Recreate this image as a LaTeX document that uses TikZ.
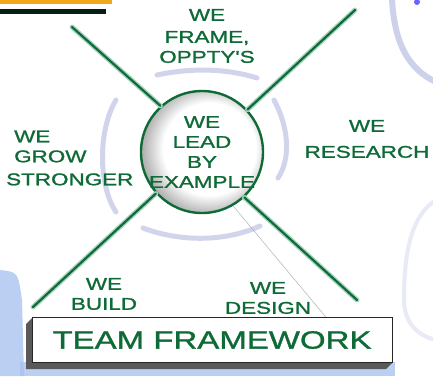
\documentclass[tikz,border=0pt]{standalone}
\usepackage{fontspec}
\newfontfamily\hand[FakeStretch=1.32,FakeBold=1.2]{Liberation Sans}
\definecolor{pen}{HTML}{0E6A36}
\definecolor{penlite}{HTML}{A9D3C2}
\definecolor{lav}{HTML}{CDD1EA}
\definecolor{skyb}{HTML}{A9C3EE}
\definecolor{orng}{HTML}{F2A81C}
\pgfdeclareradialshading{ringshade}{\pgfpoint{5bp}{2bp}}{color(0bp)=(white); color(19bp)=(white); color(26bp)=(black!28); color(31bp)=(black!40); color(50bp)=(black!40)}
\tikzset{
  lbl/.style={text=pen, align=center, inner sep=0pt, font=\hand\fontsize{17}{20}\selectfont},
  spoke/.style={draw=pen, line width=2.2pt, line cap=round},
  spokelite/.style={draw=penlite, line width=5pt, line cap=round},
  halo/.style={draw=lav, line width=5pt, line cap=round, opacity=0.9},
}
\begin{document}
\begin{tikzpicture}[x=1pt,y=-1pt]
\useasboundingbox (0,0) rectangle (433,376);
\fill[white] (0,0) rectangle (433,376);
% top-left strokes
\fill[orng] (0,0) rectangle (112,4);
\fill[black!70!pen] (0,9) rectangle (106,14);
% side blue smears
\fill[skyb, opacity=0.8] (0,270) .. controls (18,272) .. (22,300) -- (24,376) -- (0,376) -- cycle;
\fill[skyb, opacity=0.8] (20,362) rectangle (395,376);
\fill[blue!60] (417,2) circle (3);
\draw[lav, line width=6pt] (392,-2) .. controls (394,45) and (410,70) .. (436,82);
\draw[lav, line width=4pt, opacity=0.45] (436,200) .. controls (412,215) and (404,250) .. (404,300) .. controls (404,320) and (415,335) .. (436,340);
% halos around centre
\draw[halo] (157,75) .. controls (190,68) and (225,68) .. (257,78);
\draw[halo] (116,100) .. controls (98,130) and (98,185) .. (116,212);
\draw[halo] (274,100) .. controls (290,130) and (290,160) .. (278,178);
\draw[halo] (143,228) .. controls (180,242) and (225,242) .. (260,226);
% centre circle
\node[circle, minimum size=122pt, inner sep=0pt, draw=pen, line width=2.4pt,
      shading=ringshade] (c) at (202,152) {};
\node[lbl] (clbl) at (c.center) {WE\\LEAD\\BY\\EXAMPLE};
% spoke ends
\coordinate (nw) at (72,27);
\coordinate (ne) at (355,10);
\coordinate (sw) at (33,307);
\coordinate (se) at (357,300);
\foreach \a/\p in {132/nw, 43/ne, 222/sw, 313/se}{
  \draw[spokelite] (c.\a) -- (\p);
  \draw[spoke] (c.\a) -- (\p);
}
\coordinate (g1) at (c.300);
\coordinate (g2) at (330,322);
\draw[black!30, line width=0.5pt] (g1) -- (g2);
% labels
\node[lbl] (top) at (207,36) {WE\\[2pt]FRAME,\\OPPTY'S};
\node[lbl, align=left, anchor=west] (left) at (6,158) {\hspace*{8pt}WE\\\hspace*{8pt}GROW\\[3pt]STRONGER};
\node[lbl] (right) at (367,139) {WE\\[6pt]RESEARCH};
\node[lbl] (build) at (104,294) {WE\\BUILD};
\node[lbl] (design) at (268,298) {WE\\DESIGN};
% box with shadow
\fill[black!65] (26,324) -- (32,318) -- (32,363) -- (392,363) -- (386,369) -- (26,369) -- cycle;
\node[draw=black!85, line width=0.9pt, fill=white, minimum width=360pt, minimum height=45pt,
      inner sep=0pt, text=pen, font=\hand\fontsize{25}{28}\selectfont] (box) at (212,340) {TEAM FRAMEWORK};
\end{tikzpicture}
\end{document}
